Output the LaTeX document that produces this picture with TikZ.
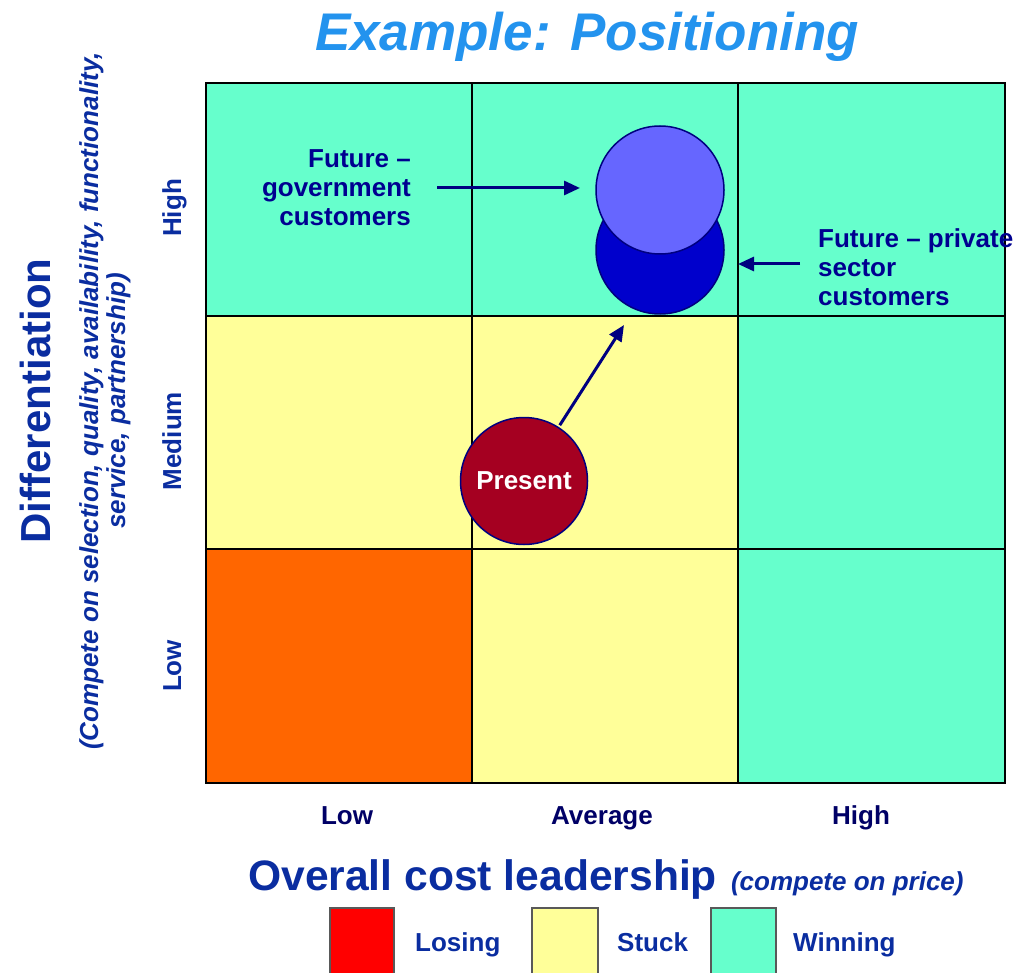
\documentclass[tikz,border=0pt]{standalone}
\usepackage{fontspec}
\setmainfont{Liberation Sans}
\usetikzlibrary{arrows.meta}
\definecolor{teal1}{HTML}{66FFCC}
\definecolor{yel1}{HTML}{FFFF99}
\definecolor{ora1}{HTML}{FF6600}
\definecolor{red1}{HTML}{FF0000}
\definecolor{txtblue}{HTML}{0A2DA0}
\definecolor{xnavy}{HTML}{000066}
\definecolor{navy1}{HTML}{000090}
\definecolor{arrblue}{HTML}{000080}
\definecolor{titleblue}{HTML}{2393EE}
\definecolor{lightc}{HTML}{6666FF}
\definecolor{darkc}{HTML}{0000CC}
\definecolor{presentc}{HTML}{A50021}
\tikzset{
  cell/.style={draw=black, line width=2pt},
  lbl/.style={text=txtblue, font=\fontsize{26}{28}\selectfont\bfseries, inner sep=0pt},
  xlbl/.style={text=xnavy, font=\fontsize{26}{28}\selectfont\bfseries, inner sep=0pt, anchor=base},
  futlbl/.style={text=navy1, font=\fontsize{26}{29}\selectfont\bfseries, inner sep=0pt},
  bub/.style={circle, draw=arrblue, line width=1.5pt, minimum size=128pt, inner sep=0pt},
  arr/.style={draw=arrblue, line width=3pt, -{Triangle[length=16pt,width=14pt]}},
  legbox/.style={draw=gray!70!black, line width=2pt}
}
\begin{document}
\begin{tikzpicture}[x=1pt,y=-1pt]
\useasboundingbox (0,0) rectangle (1019,973);
% grid cells
\fill[teal1] (206,83) rectangle (472,316);
\fill[teal1] (472,83) rectangle (738,316);
\fill[teal1] (738,83) rectangle (1005,316);
\fill[yel1] (206,316) rectangle (472,549);
\fill[yel1] (472,316) rectangle (738,549);
\fill[teal1] (738,316) rectangle (1005,549);
\fill[ora1] (206,549) rectangle (472,783);
\fill[yel1] (472,549) rectangle (738,783);
\fill[teal1] (738,549) rectangle (1005,783);
\draw[cell] (206,83) rectangle (1005,783);
\draw[cell] (472,83) -- (472,783);
\draw[cell] (738,83) -- (738,783);
\draw[cell] (206,316) -- (1005,316);
\draw[cell] (206,549) -- (1005,549);
% title
\node[text=titleblue, font=\fontsize{53}{60}\selectfont\bfseries\itshape, inner sep=0pt, anchor=base] (title) at (587,51) {Example: Positioning};
% y axis
\node[text=txtblue, font=\fontsize{42}{46}\selectfont\bfseries, rotate=90, inner sep=0pt] (diff) at (35,401) {Differentiation};
\node[text=txtblue, font=\fontsize{26}{27}\selectfont\bfseries\itshape, rotate=90, align=center, inner sep=0pt] (diffsub) at (105,401) {(Compete on selection, quality, availability, functionality,\\service, partnership)};
\node[lbl, rotate=90, anchor=base] (yhigh) at (181,208) {High};
\node[lbl, rotate=90, anchor=base] (ymed) at (181,441) {Medium};
\node[lbl, rotate=90, anchor=base] (ylow) at (181,666) {Low};
% x axis
\node[xlbl] (xlow) at (347,824) {Low};
\node[xlbl] (xavg) at (602,824) {Average};
\node[xlbl] (xhigh) at (861,824) {High};
\node[inner sep=0pt, anchor=base west] (xtitle) at (248,890) {\textcolor{txtblue}{\fontsize{42.6}{46}\selectfont\bfseries Overall cost leadership}\hspace{14pt}\textcolor{txtblue}{\fontsize{26}{28}\selectfont\bfseries\itshape (compete on price)}};
% bubbles
\node[bub, fill=darkc] (priv) at (660,250) {};
\node[bub, fill=lightc] (gov) at (660,190) {};
\node[bub, fill=presentc, minimum size=127pt, text=white, font=\fontsize{26}{28}\selectfont\bfseries] (present) at (524,481) {Present};
% labels
\node[futlbl, align=right, anchor=north east] (govlbl) at (411,149) {Future --\\government\\customers};
\node[futlbl, align=left, anchor=north west] (privlbl) at (818,228) {Future -- private\\sector\\customers};
% arrows
\coordinate (govstart) at (437,188);
\coordinate (govend) at (580,188);
\coordinate (privstart) at (800,264);
\coordinate (privend) at (738,264);
\coordinate (presend) at (624,325);
\draw[arr] (govstart) -- (govend);
\draw[arr] (privstart) -- (privend);
\draw[arr, shorten <=2pt] (present) -- (presend);
% legend
\draw[legbox, fill=red1] (330,908) rectangle (394,975);
\draw[legbox, fill=yel1] (532,908) rectangle (598,975);
\draw[legbox, fill=teal1] (711,908) rectangle (776,975);
\node[lbl, anchor=base west] (leglose) at (415,951) {Losing};
\node[lbl, anchor=base west] (legstuck) at (617,951) {Stuck};
\node[lbl, anchor=base west] (legwin) at (793,951) {Winning};
\end{tikzpicture}
\end{document}
